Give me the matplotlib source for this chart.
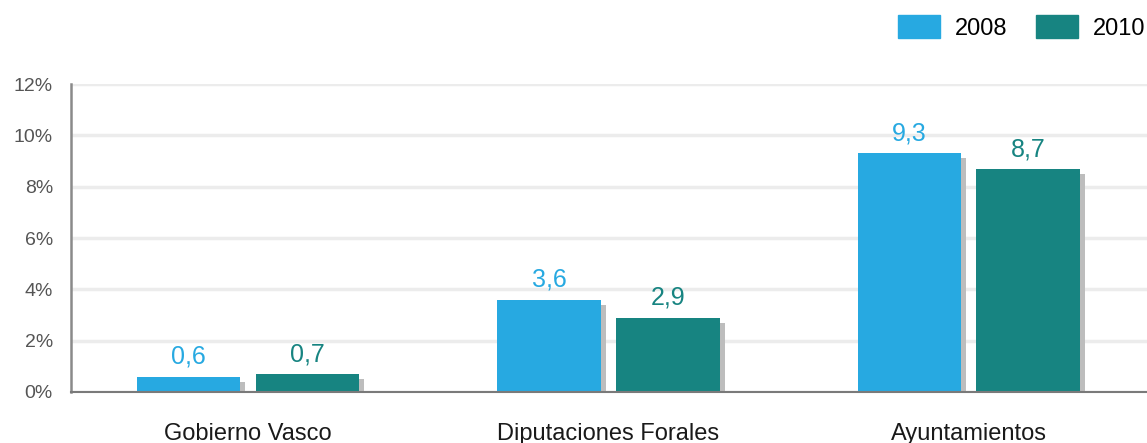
import numpy as np
import matplotlib.pyplot as plt
from matplotlib.patches import Patch

plt.rcParams['font.family'] = ['Liberation Sans', 'DejaVu Sans']

categories = ["Gobierno Vasco", "Diputaciones Forales", "Ayuntamientos"]
years = ["2008", "2010"]
values_2008 = [0.6, 3.6, 9.3]
values_2010 = [0.7, 2.9, 8.7]
yticks = [0, 2, 4, 6, 8, 10, 12]

blue = "#27a9e1"
teal = "#178481"
shadow = "#bdbdbd"

fig = plt.figure(figsize=(11.47, 4.43), dpi=100)
ax = fig.add_axes([71 / 1147, 51 / 443, 1076 / 1147, 308 / 443])

x = np.arange(len(categories))
width = 0.288
offset = 0.165
sdx = 0.014   # shadow shift, data units
sdy = 0.2

for vals, col, sign in [(values_2008, blue, -1), (values_2010, teal, 1)]:
    xs = x + sign * offset
    vals = np.array(vals)
    # drop shadow
    ax.bar(xs + sdx, vals - sdy + 0.08, width=width, bottom=-0.08,
           color=shadow, zorder=2)
    ax.bar(xs, vals + 0.08, width=width, bottom=-0.08, color=col, zorder=3)
    for xi, v in zip(xs, vals):
        ax.text(xi, v + 0.3, f"{v:.1f}".replace(".", ","), ha="center",
                va="bottom", fontsize=18, color=col)

ax.set_xlim(-0.491, 2.494)
ax.set_ylim(0, 12)
ax.set_yticks(yticks)
ax.set_yticklabels([f"{t}%" for t in yticks], fontsize=14, color="#555555")
ax.yaxis.grid(True, color="#ececec", linewidth=2.5)
ax.set_axisbelow(True)
ax.set_xticks(x)
ax.set_xticklabels(categories, fontsize=17, color="#1a1a1a")
ax.tick_params(axis="x", length=0, pad=22)
ax.tick_params(axis="y", length=0, pad=13)

for s in ["top", "right"]:
    ax.spines[s].set_visible(False)
ax.spines["left"].set_color("#8a8a8a")
ax.spines["left"].set_linewidth(1.8)
ax.spines["bottom"].set_color("#7a7a7a")
ax.spines["bottom"].set_linewidth(1.5)
ax.spines["bottom"].set_zorder(4)

handles = [Patch(color=blue), Patch(color=teal)]
fig.legend(handles, years, loc="center left",
           bbox_to_anchor=(898 / 1147, 1 - 27.5 / 443),
           ncol=2, frameon=False, fontsize=17, handlelength=1.78,
           handleheight=1.06, handletextpad=0.64, columnspacing=1.19,
           borderpad=0, borderaxespad=0)

fig.savefig("out.png", dpi=100)
